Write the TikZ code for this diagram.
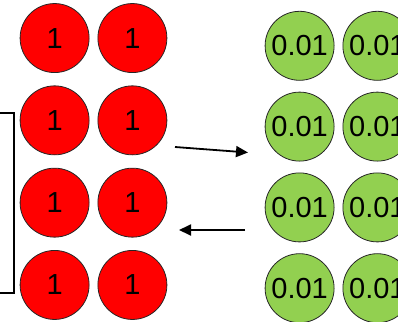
\documentclass[tikz,border=0pt]{standalone}
\usepackage{fontspec}
\setmainfont{Liberation Sans}
\usetikzlibrary{matrix,arrows.meta}
\definecolor{ballred}{HTML}{FF0000}
\definecolor{ballgreen}{HTML}{92D050}

\begin{document}
\begin{tikzpicture}[x=1pt, y=-1pt,
		ball/.style={circle, draw=black!85, line width=0.8pt, inner sep=0pt, minimum size=69pt, font=\fontsize{29}{29}\selectfont},
		flow/.style={line width=1.8pt, -{Triangle[length=12pt, width=11pt]}}]
		\useasboundingbox (0,0) rectangle (398,321);
		\matrix (r) at (93.5,161.5) [matrix of nodes, row sep=12.5pt, column sep=8pt, nodes={ball, fill=ballred}]
		{ 1 & 1 \\
			1 & 1 \\
			1 & 1 \\
			1 & 1 \\ };
		\matrix (g) at (338.5,167) [matrix of nodes, row sep=11pt, column sep=8pt, nodes={ball, fill=ballgreen}]
		{ 0.01 & 0.01 \\
			0.01 & 0.01 \\
			0.01 & 0.01 \\
			0.01 & 0.01 \\ };
		\coordinate (bt) at (0,113);
		\coordinate (bb) at (0,293);
		\coordinate (fs) at (175,147);
		\coordinate (fe) at (248,152.5);
		\coordinate (bs) at (245,230);
		\coordinate (be) at (179,230);
		\draw[line width=1.2pt] (bt) -| (14,293) -- (bb);
		\draw[flow] (fs) -- (fe);
		\draw[flow] (bs) -- (be);
\end{tikzpicture}
\end{document}
